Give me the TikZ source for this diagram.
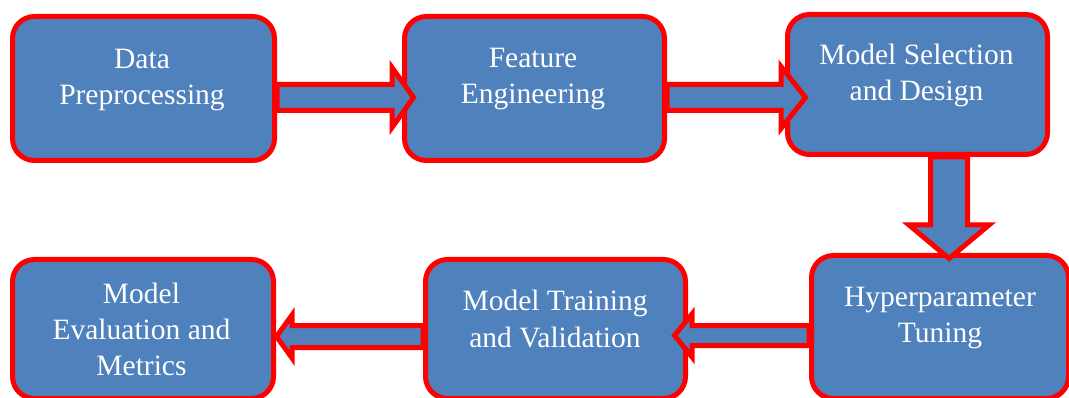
\documentclass[tikz,border=0pt]{standalone}
\usepackage{fontspec}
\setmainfont{Liberation Serif}
\usetikzlibrary{calc}
\definecolor{boxblue}{HTML}{4F81BD}
\definecolor{edgered}{HTML}{FF0000}
\begin{document}
\begin{tikzpicture}[x=1pt,y=-1pt,
  box/.style={draw=edgered, fill=boxblue, line width=5pt, rounded corners=22pt, inner sep=0pt},
  lbl/.style={text=white, align=center, inner sep=0pt, font=\fontsize{29.5}{36}\selectfont},
  arr/.style={draw=edgered, fill=boxblue, line width=5pt, line join=miter}]
\useasboundingbox (0,0) rectangle (1069,398);
% boxes
\node[box, minimum width=262pt, minimum height=144pt] (b1) at (143.5,88.5) {};
\node[box, minimum width=260pt, minimum height=144pt] (b2) at (534.5,88.5) {};
\node[box, minimum width=260pt, minimum height=140pt] (b3) at (917.5,84.5) {};
\node[box, minimum width=257pt, minimum height=143pt] (b4) at (940,327) {};
\node[box, minimum width=260pt, minimum height=139pt] (b5) at (555.5,329) {};
\node[box, minimum width=261pt, minimum height=139pt] (b6) at (143,329) {};
% labels
\node[lbl] (t1) at (142,79.3) {\strut Data\\Preprocessing\strut};
\node[lbl] (t2) at (533,78.3) {\strut Feature\\Engineering\strut};
\node[lbl] (t3) at (916.5,75.3) {\strut Model Selection\\and Design\strut};
\node[lbl] (t4) at (940,317.3) {\strut Hyperparameter\\Tuning\strut};
\node[lbl] (t5) at (555,321.8) {\strut Model Training\\and Validation\strut};
\node[lbl] (t6) at (141.5,331.8) {\strut Model\\Evaluation and\\Metrics\strut};
% arrow anchors
\coordinate (a1s) at ($(b1.east)+(0,9)$);
\coordinate (a2s) at ($(b2.east)+(0,9)$);
\coordinate (a3s) at ($(b3.south)+(31.5,0)$);
\coordinate (a4s) at ($(b4.west)+(0,8.5)$);
\coordinate (a5s) at ($(b5.west)+(0,7.5)$);
% arrows
\draw[arr] ($(a1s)+(0,-13)$) -- ++(115,0) -- ++(0,-17) -- ($(a1s)+(136.5,0)$)
  -- ($(a1s)+(115,30)$) -- ++(0,-17) -- ($(a1s)+(0,13)$) -- cycle;
\draw[arr] ($(a2s)+(0,-13)$) -- ++(114,0) -- ++(0,-18) -- ($(a2s)+(138.5,0)$)
  -- ($(a2s)+(114,31)$) -- ++(0,-18) -- ($(a2s)+(0,13)$) -- cycle;
\draw[arr] ($(a3s)+(-18.5,0)$) -- ++(0,68) -- ++(-21.5,0) -- ($(a3s)+(0,101.5)$)
  -- ($(a3s)+(40,68)$) -- ++(-21.5,0) -- ($(a3s)+(18.5,0)$) -- cycle;
\draw[arr] ($(a4s)+(0,-10)$) -- ++(-117,0) -- ++(0,-11.5) -- ($(a4s)+(-134.5,0)$)
  -- ($(a4s)+(-117,21.5)$) -- ++(0,-11.5) -- ($(a4s)+(0,10)$) -- cycle;
\draw[arr] ($(a5s)+(0,-11)$) -- ++(-131,0) -- ++(0,-10.5) -- ($(a5s)+(-146.5,0)$)
  -- ($(a5s)+(-131,21.5)$) -- ++(0,-10.5) -- ($(a5s)+(0,11)$) -- cycle;
\end{tikzpicture}
\end{document}
